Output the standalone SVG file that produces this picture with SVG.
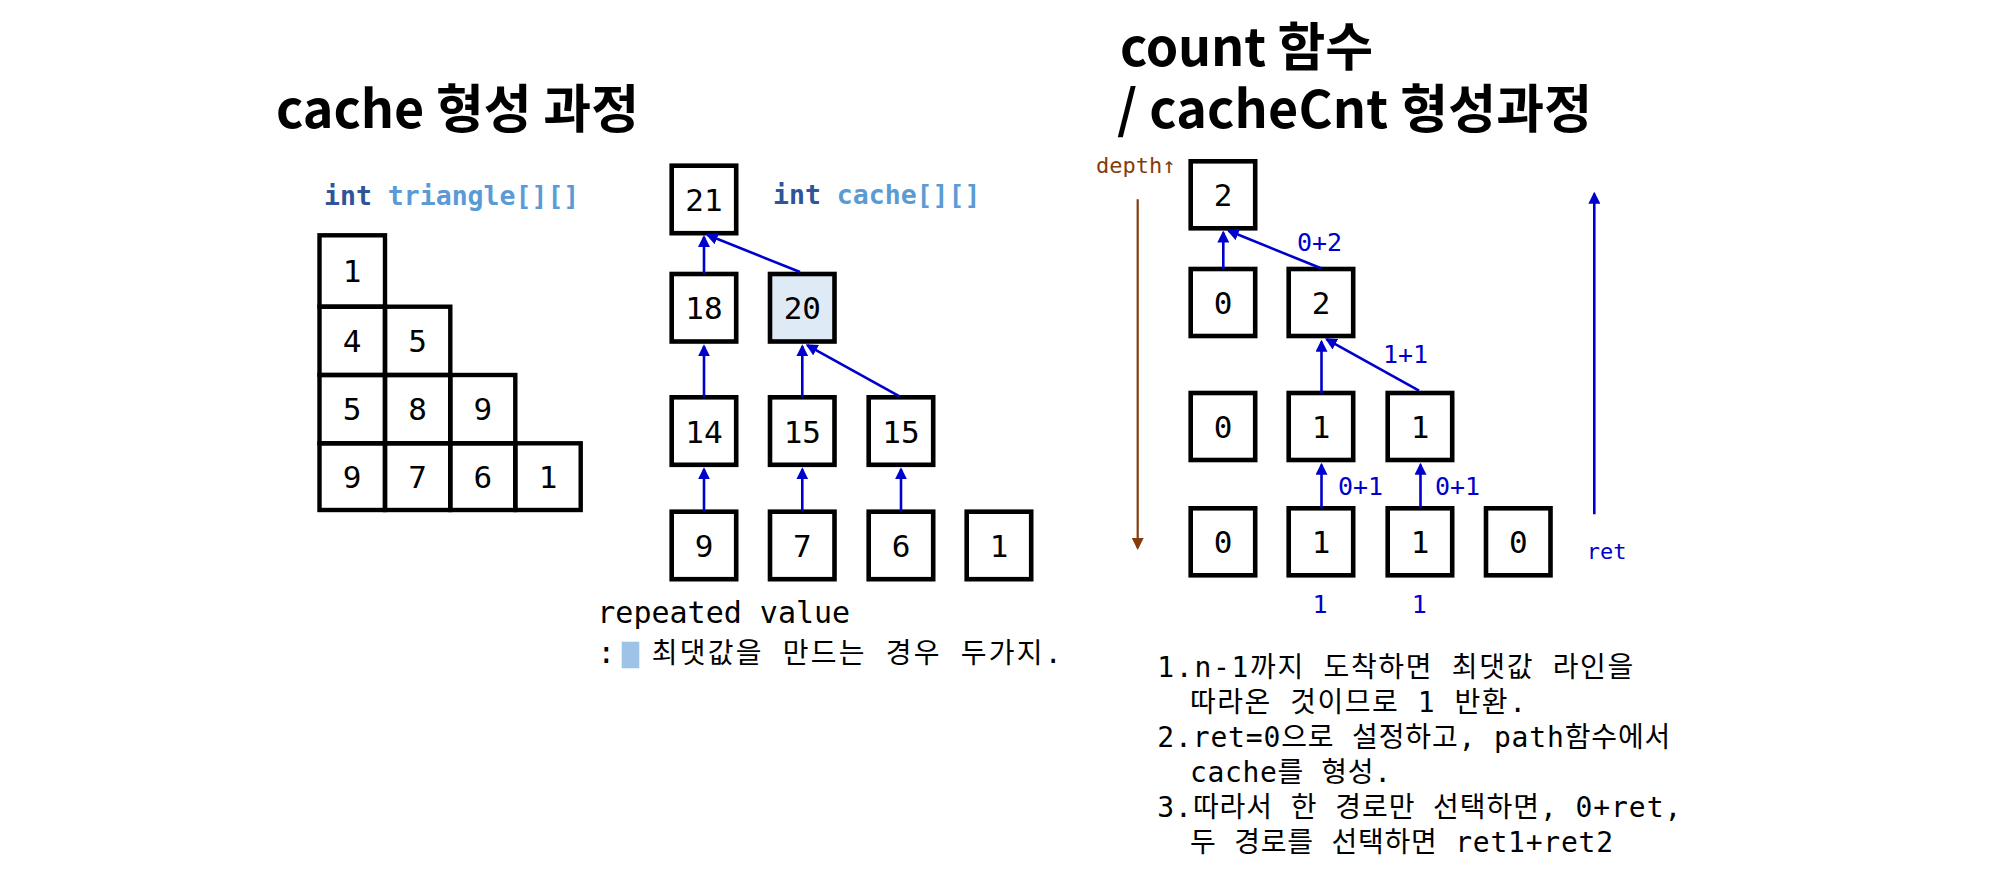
<svg xmlns="http://www.w3.org/2000/svg" width="2002" height="879" viewBox="0 0 2002 879">
<defs>
<marker id="ab" markerUnits="userSpaceOnUse" markerWidth="12" markerHeight="12" viewBox="0 0 12 12" refX="10" refY="6" orient="auto"><path d="M0,0 L12,6 L0,12 z" fill="#0000CC"/></marker>
<marker id="ar" markerUnits="userSpaceOnUse" markerWidth="12" markerHeight="12" viewBox="0 0 12 12" refX="10" refY="6" orient="auto"><path d="M0,0 L12,6 L0,12 z" fill="#843C0C"/></marker>
<style>
.t{font-family:"Noto Sans CJK KR","Noto Sans",sans-serif;font-weight:bold;font-size:52px;fill:#000}
.box{fill:#fff;stroke:#000;stroke-width:4.6}
.hl{fill:#DEEBF7}
.cell{fill:none;stroke:#000;stroke-width:4.4}
.num{font-family:"DejaVu Sans Mono","Noto Sans CJK KR",monospace;font-size:31px;text-anchor:middle;fill:#000}
.code{font-family:"DejaVu Sans Mono",monospace;font-size:26.5px;font-weight:bold}
.kw{fill:#2F5597}
.id{fill:#5B9BD5}
.lbl{font-family:"DejaVu Sans Mono",monospace;font-size:25px;fill:#0000CC}
.mono{font-family:"DejaVu Sans Mono","Noto Sans CJK KR",monospace;fill:#000}
.conn line{stroke:#0000CC;stroke-width:2.6;marker-end:url(#ab)}
</style>
</defs>
<rect width="2002" height="879" fill="#fff"/>

<text class="t" x="276" y="128" textLength="363" lengthAdjust="spacing">cache 형성 과정</text>
<text class="t" x="1120" y="66" textLength="253" lengthAdjust="spacing">count 함수</text>
<text class="t" x="1117" y="128" textLength="475" lengthAdjust="spacing">/ cacheCnt 형성과정</text>

<text class="code" x="324" y="205"><tspan class="kw">int</tspan> <tspan class="id">triangle[][]</tspan></text>
<text class="code" x="773" y="204"><tspan class="kw">int</tspan> <tspan class="id">cache[][]</tspan></text>

<g id="triangle">
<rect class="cell" x="319.5" y="235.3" width="65.5" height="71.4"/>
<rect class="cell" x="319.5" y="306.7" width="65.5" height="68.3"/>
<rect class="cell" x="385" y="306.7" width="65.3" height="68.3"/>
<rect class="cell" x="319.5" y="375" width="65.5" height="68.3"/>
<rect class="cell" x="385" y="375" width="65.3" height="68.3"/>
<rect class="cell" x="450.3" y="375" width="65" height="68.3"/>
<rect class="cell" x="319.5" y="443.3" width="65.5" height="66.7"/>
<rect class="cell" x="385" y="443.3" width="65.3" height="66.7"/>
<rect class="cell" x="450.3" y="443.3" width="65" height="66.7"/>
<rect class="cell" x="515.3" y="443.3" width="65.4" height="66.7"/>
<text class="num" x="352.2" y="282">1</text>
<text class="num" x="352.2" y="351.8">4</text>
<text class="num" x="417.7" y="351.8">5</text>
<text class="num" x="352.2" y="420">5</text>
<text class="num" x="417.7" y="420">8</text>
<text class="num" x="482.8" y="420">9</text>
<text class="num" x="352.2" y="488.3">9</text>
<text class="num" x="417.7" y="488.3">7</text>
<text class="num" x="482.8" y="488.3">6</text>
<text class="num" x="548" y="488.3">1</text>
</g>

<g id="c21"><rect class="box" x="671.7" y="165.7" width="64.5" height="67.5"/><text class="num" x="704" y="211">21</text></g>
<g id="c18"><rect class="box" x="671.7" y="274" width="64.5" height="67.5"/><text class="num" x="704" y="319.3">18</text></g>
<g id="c20"><rect class="box hl" x="770" y="274" width="64.5" height="67.5"/><text class="num" x="802.3" y="319.3">20</text></g>
<g id="c14"><rect class="box" x="671.7" y="397.3" width="64.5" height="67.5"/><text class="num" x="704" y="442.6">14</text></g>
<g id="c15a"><rect class="box" x="770" y="397.3" width="64.5" height="67.5"/><text class="num" x="802.3" y="442.6">15</text></g>
<g id="c15b"><rect class="box" x="868.7" y="397.3" width="64.5" height="67.5"/><text class="num" x="901" y="442.6">15</text></g>
<g id="c9"><rect class="box" x="671.7" y="511.7" width="64.5" height="67.5"/><text class="num" x="704" y="557">9</text></g>
<g id="c7"><rect class="box" x="770" y="511.7" width="64.5" height="67.5"/><text class="num" x="802.3" y="557">7</text></g>
<g id="c6"><rect class="box" x="868.7" y="511.7" width="64.5" height="67.5"/><text class="num" x="901" y="557">6</text></g>
<g id="c1"><rect class="box" x="966.7" y="511.7" width="64.5" height="67.5"/><text class="num" x="999" y="557">1</text></g>

<g id="r0"><rect class="box" x="1190.7" y="161.3" width="64.5" height="67"/><text class="num" x="1223" y="206.3">2</text></g>
<g id="r10"><rect class="box" x="1190.7" y="269" width="64.5" height="67"/><text class="num" x="1223" y="314">0</text></g>
<g id="r11"><rect class="box" x="1288.7" y="269" width="64.5" height="67"/><text class="num" x="1321" y="314">2</text></g>
<g id="r20"><rect class="box" x="1190.7" y="393" width="64.5" height="67"/><text class="num" x="1223" y="438">0</text></g>
<g id="r21"><rect class="box" x="1288.7" y="393" width="64.5" height="67"/><text class="num" x="1321" y="438">1</text></g>
<g id="r22"><rect class="box" x="1387.7" y="393" width="64.5" height="67"/><text class="num" x="1420" y="438">1</text></g>
<g id="r30"><rect class="box" x="1190.7" y="508.3" width="64.5" height="67"/><text class="num" x="1223" y="553.3">0</text></g>
<g id="r31"><rect class="box" x="1288.7" y="508.3" width="64.5" height="67"/><text class="num" x="1321" y="553.3">1</text></g>
<g id="r32"><rect class="box" x="1387.7" y="508.3" width="64.5" height="67"/><text class="num" x="1420" y="553.3">1</text></g>
<g id="r33"><rect class="box" x="1486" y="508.3" width="64.5" height="67"/><text class="num" x="1518.3" y="553.3">0</text></g>

<g id="connectors" class="conn">
<line x1="704" y1="274" x2="704" y2="237"/>
<line x1="800" y1="272" x2="707.6" y2="235"/>
<line x1="704" y1="397.3" x2="704" y2="346.3"/>
<line x1="802.3" y1="397.3" x2="802.3" y2="346.3"/>
<line x1="900" y1="396.7" x2="807.4" y2="345.3"/>
<line x1="704" y1="511.7" x2="704" y2="469.3"/>
<line x1="802.3" y1="511.7" x2="802.3" y2="469.3"/>
<line x1="901" y1="511.7" x2="901" y2="469.3"/>
<line x1="1223.3" y1="269" x2="1223.3" y2="232.6"/>
<line x1="1321" y1="268.3" x2="1228.6" y2="230.8"/>
<line x1="1321.5" y1="393" x2="1321.5" y2="341.7"/>
<line x1="1419" y1="390.7" x2="1326.7" y2="339.3"/>
<line x1="1321.5" y1="508.3" x2="1321.5" y2="464.7"/>
<line x1="1420.5" y1="508.3" x2="1420.5" y2="464.7"/>
<line x1="1594.3" y1="514.3" x2="1594.3" y2="193.7"/>
<line x1="1137.7" y1="199.3" x2="1137.7" y2="548" style="stroke:#843C0C;stroke-width:2.2;marker-end:url(#ar)"/>
</g>

<text class="lbl" x="1297" y="251">0+2</text>
<text class="lbl" x="1383" y="363">1+1</text>
<text class="lbl" x="1338" y="495">0+1</text>
<text class="lbl" x="1435" y="495">0+1</text>
<text class="lbl" x="1320" y="613" text-anchor="middle">1</text>
<text class="lbl" x="1419.3" y="613" text-anchor="middle">1</text>
<text class="lbl" x="1586.7" y="559.3" style="font-size:22px">ret</text>
<text class="mono" x="1096" y="173.3" style="font-size:22px;fill:#843C0C">depth↑</text>

<text class="mono" x="597.3" y="623.3" style="font-size:30px">repeated value</text>
<text class="mono" x="597.3" y="663.3" style="font-size:30px">:</text>
<rect x="621.7" y="641.7" width="17.6" height="26.6" fill="#9DC3E6"/>
<text class="mono" x="651.7" y="663.3" style="font-size:28px" textLength="410" lengthAdjust="spacing">최댓값을 만드는 경우 두가지.</text>

<g class="mono" style="font-size:28px">
<text x="1157.3" y="676.5" textLength="476" lengthAdjust="spacing">1.n-1까지 도착하면 최댓값 라인을</text>
<text x="1190" y="711.5" textLength="336" lengthAdjust="spacing">따라온 것이므로 1 반환.</text>
<text x="1157.3" y="747" textLength="513" lengthAdjust="spacing">2.ret=0으로 설정하고, path함수에서</text>
<text x="1190" y="782" textLength="201" lengthAdjust="spacing">cache를 형성.</text>
<text x="1157.3" y="816.7" textLength="524" lengthAdjust="spacing">3.따라서 한 경로만 선택하면, 0+ret,</text>
<text x="1190" y="851.7" textLength="423" lengthAdjust="spacing">두 경로를 선택하면 ret1+ret2</text>
</g>
</svg>
